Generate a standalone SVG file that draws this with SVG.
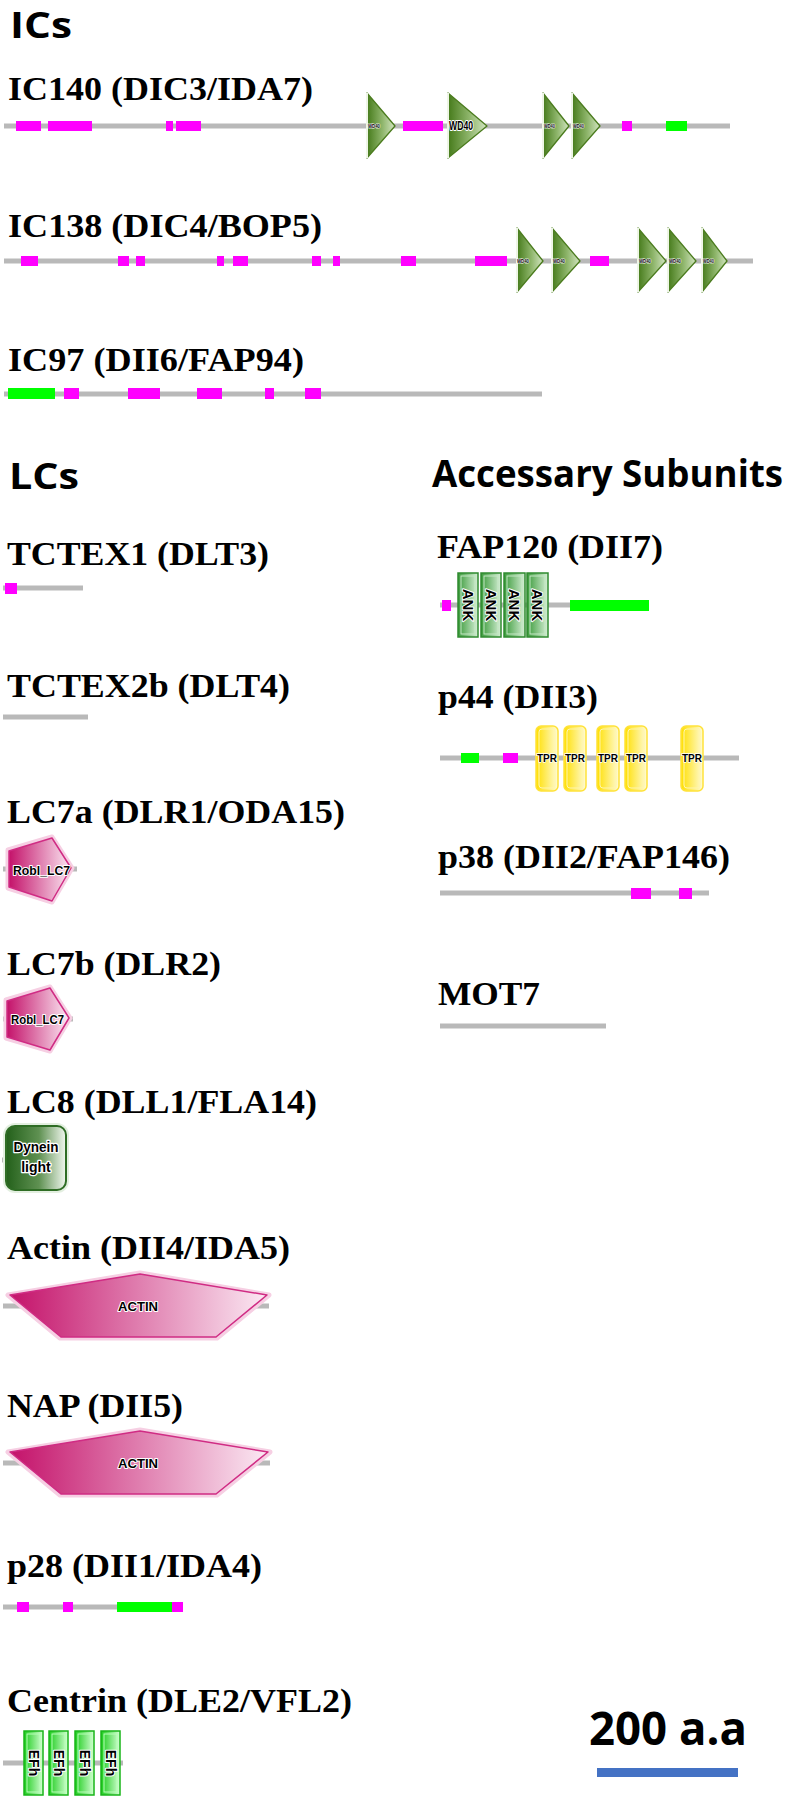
<svg xmlns="http://www.w3.org/2000/svg" width="792" height="1800" viewBox="0 0 792 1800">
<defs>
<linearGradient id="gWD" x1="0" y1="0" x2="1" y2="0"><stop offset="0" stop-color="#457a1a"/><stop offset="0.55" stop-color="#8fb66c"/><stop offset="1" stop-color="#d3e5c2"/></linearGradient>
<linearGradient id="gPk" x1="0" y1="0" x2="1" y2="0"><stop offset="0" stop-color="#c4126a"/><stop offset="1" stop-color="#fbe9f3"/></linearGradient>
<linearGradient id="gDL" x1="0" y1="0" x2="1" y2="0"><stop offset="0" stop-color="#23601a"/><stop offset="0.55" stop-color="#5f9152"/><stop offset="1" stop-color="#f2f8f0"/></linearGradient>
<linearGradient id="gAK" x1="0" y1="0" x2="1" y2="0"><stop offset="0" stop-color="#3a9a3a"/><stop offset="1" stop-color="#d6efd6"/></linearGradient>
<linearGradient id="gEF" x1="0" y1="0" x2="1" y2="0"><stop offset="0" stop-color="#1ccc1c"/><stop offset="1" stop-color="#d4ffd4"/></linearGradient>
<linearGradient id="gTP" x1="0" y1="0" x2="1" y2="0"><stop offset="0" stop-color="#ffdf00"/><stop offset="1" stop-color="#fffbd6"/></linearGradient>
</defs>
<style>
.lbl{font-family:"Liberation Serif","Times New Roman",serif;font-weight:700;font-size:33px;fill:#000}
.hd{font-family:"Open Sans","Noto Sans",sans-serif;font-weight:700;fill:#000}
.bb{stroke:#b9b9b9;stroke-width:5;fill:none}
.mg{fill:#ff00ff}
.gr{fill:#00ff00}
.wd{fill:url(#gWD);stroke:#4b7c1e;stroke-width:1.3;stroke-linejoin:round}
.wdl{stroke:#eef5e6;stroke-width:2}
.dt{font-family:"Liberation Sans",Arial,sans-serif;font-weight:700;fill:#000;stroke:#fff;paint-order:stroke;stroke-linejoin:round}
.pk{fill:url(#gPk);stroke:#d02c84;stroke-width:1.5;stroke-linejoin:round}
.pko{fill:none;stroke:#f6cfe3;stroke-width:5;stroke-linejoin:round}
.ak{fill:url(#gAK);stroke:#2f8a2f;stroke-width:1.5}
.aki{fill:none;stroke:#c6e8c6;stroke-width:1}
.ef{fill:url(#gEF);stroke:#19b519;stroke-width:1.5}
.efi{fill:none;stroke:#b8ffb8;stroke-width:1}
.tp{fill:url(#gTP);stroke:#ffe23a;stroke-width:1.5}
.tpi{fill:none;stroke:#fff5b0;stroke-width:1}
</style>

<g id="headings">
<text class="hd" x="10" y="38" font-size="36" textLength="62" lengthAdjust="spacingAndGlyphs">ICs</text>
<text class="hd" x="9" y="489" font-size="36" textLength="70" lengthAdjust="spacingAndGlyphs">LCs</text>
<text class="hd" x="432" y="487" font-size="37" textLength="351" lengthAdjust="spacingAndGlyphs">Accessary Subunits</text>
</g>

<g id="IC140">
<text class="lbl" x="8" y="100" textLength="305" lengthAdjust="spacingAndGlyphs">IC140 (DIC3/IDA7)</text>
<line class="bb" x1="4" y1="126" x2="730" y2="126"/>
<rect class="mg" x="16" y="121" width="25" height="10"/>
<rect class="mg" x="48" y="121" width="44" height="10"/>
<rect class="mg" x="166" y="121" width="7" height="10"/>
<rect class="mg" x="176" y="121" width="25" height="10"/>
<rect class="mg" x="403" y="121" width="40" height="10"/>
<rect class="mg" x="622" y="121" width="10" height="10"/>
<rect class="gr" x="666" y="121" width="21" height="10"/>
<path class="wd" d="M367 93 L395 126 L367 158 Z"/><line class="wdl" x1="367" y1="93" x2="367" y2="158"/>
<text class="dt" x="368" y="128" font-size="5" stroke-width="1" textLength="12" lengthAdjust="spacingAndGlyphs">WD40</text>
<path class="wd" d="M448 93 L487 126 L448 158 Z"/><line class="wdl" x1="448" y1="93" x2="448" y2="158"/>
<text class="dt" x="449" y="130" font-size="12" stroke-width="2" textLength="24" lengthAdjust="spacingAndGlyphs">WD40</text>
<path class="wd" d="M543 93 L569 126 L543 158 Z"/><line class="wdl" x1="543" y1="93" x2="543" y2="158"/>
<text class="dt" x="544" y="128" font-size="5" stroke-width="1" textLength="11" lengthAdjust="spacingAndGlyphs">WD40</text>
<path class="wd" d="M572 93 L600 126 L572 158 Z"/><line class="wdl" x1="572" y1="93" x2="572" y2="158"/>
<text class="dt" x="573" y="128" font-size="5" stroke-width="1" textLength="11" lengthAdjust="spacingAndGlyphs">WD40</text>
</g>

<g id="IC138">
<text class="lbl" x="8" y="237" textLength="314" lengthAdjust="spacingAndGlyphs">IC138 (DIC4/BOP5)</text>
<line class="bb" x1="4" y1="261" x2="753" y2="261"/>
<rect class="mg" x="21" y="256" width="17" height="10"/>
<rect class="mg" x="118" y="256" width="11" height="10"/>
<rect class="mg" x="136" y="256" width="9" height="10"/>
<rect class="mg" x="217" y="256" width="7" height="10"/>
<rect class="mg" x="233" y="256" width="15" height="10"/>
<rect class="mg" x="312" y="256" width="9" height="10"/>
<rect class="mg" x="333" y="256" width="7" height="10"/>
<rect class="mg" x="401" y="256" width="15" height="10"/>
<rect class="mg" x="475" y="256" width="32" height="10"/>
<rect class="mg" x="590" y="256" width="19" height="10"/>
<path class="wd" d="M517 228 L543 261 L517 292 Z"/><line class="wdl" x1="517" y1="228" x2="517" y2="292"/>
<text class="dt" x="517" y="263" font-size="5" stroke-width="1" textLength="12" lengthAdjust="spacingAndGlyphs">WD40</text>
<path class="wd" d="M552 228 L580 261 L552 292 Z"/><line class="wdl" x1="552" y1="228" x2="552" y2="292"/>
<text class="dt" x="553" y="263" font-size="5" stroke-width="1" textLength="12" lengthAdjust="spacingAndGlyphs">WD40</text>
<path class="wd" d="M638 228 L666 261 L638 292 Z"/><line class="wdl" x1="638" y1="228" x2="638" y2="292"/>
<text class="dt" x="639" y="263" font-size="5" stroke-width="1" textLength="12" lengthAdjust="spacingAndGlyphs">WD40</text>
<path class="wd" d="M668 228 L696 261 L668 292 Z"/><line class="wdl" x1="668" y1="228" x2="668" y2="292"/>
<text class="dt" x="669" y="263" font-size="5" stroke-width="1" textLength="12" lengthAdjust="spacingAndGlyphs">WD40</text>
<path class="wd" d="M702 228 L727 261 L702 292 Z"/><line class="wdl" x1="702" y1="228" x2="702" y2="292"/>
<text class="dt" x="703" y="263" font-size="5" stroke-width="1" textLength="11" lengthAdjust="spacingAndGlyphs">WD40</text>
</g>

<g id="IC97">
<text class="lbl" x="8" y="371" textLength="296" lengthAdjust="spacingAndGlyphs">IC97 (DII6/FAP94)</text>
<line class="bb" x1="4" y1="394" x2="542" y2="394"/>
<rect class="gr" x="8" y="388" width="47" height="11"/>
<rect class="mg" x="64" y="388" width="15" height="11"/>
<rect class="mg" x="128" y="388" width="32" height="11"/>
<rect class="mg" x="197" y="388" width="25" height="11"/>
<rect class="mg" x="265" y="388" width="9" height="11"/>
<rect class="mg" x="305" y="388" width="16" height="11"/>
</g>

<g id="TCTEX1">
<text class="lbl" x="7" y="565" textLength="262" lengthAdjust="spacingAndGlyphs">TCTEX1 (DLT3)</text>
<line class="bb" x1="3" y1="588" x2="83" y2="588"/>
<rect class="mg" x="5" y="583" width="12" height="11"/>
</g>

<g id="TCTEX2b">
<text class="lbl" x="7" y="697" textLength="283" lengthAdjust="spacingAndGlyphs">TCTEX2b (DLT4)</text>
<line class="bb" x1="3" y1="717" x2="88" y2="717"/>
</g>

<g id="LC7a">
<text class="lbl" x="7" y="823" textLength="338" lengthAdjust="spacingAndGlyphs">LC7a (DLR1/ODA15)</text>
<line class="bb" x1="3" y1="869" x2="77" y2="869"/>
<path class="pko" d="M8 850 L52 837 L72 868 L52 902 L8 888 Z"/>
<path class="pk" d="M9 851 L52 838 L71 868 L52 901 L9 887 Z"/>
<text class="dt" x="13" y="875" font-size="13" stroke-width="2" textLength="57" lengthAdjust="spacingAndGlyphs">Robl_LC7</text>
</g>

<g id="LC7b">
<text class="lbl" x="7" y="975" textLength="214" lengthAdjust="spacingAndGlyphs">LC7b (DLR2)</text>
<line class="bb" x1="3" y1="1019" x2="73" y2="1019"/>
<path class="pko" d="M6 1000 L50 987 L70 1018 L50 1051 L6 1038 Z"/>
<path class="pk" d="M7 1001 L50 988 L69 1018 L50 1050 L7 1037 Z"/>
<text class="dt" x="11" y="1024" font-size="12" stroke-width="2" textLength="53" lengthAdjust="spacingAndGlyphs">Robl_LC7</text>
</g>

<g id="LC8">
<text class="lbl" x="7" y="1113" textLength="310" lengthAdjust="spacingAndGlyphs">LC8 (DLL1/FLA14)</text>
<line class="bb" x1="2" y1="1160" x2="7" y2="1160"/>
<rect x="5" y="1125" width="62" height="66" rx="10" fill="none" stroke="#e3efe0" stroke-width="4"/>
<rect x="6" y="1126" width="60" height="64" rx="9" fill="url(#gDL)" stroke="#2f6d25" stroke-width="2"/>
<text class="dt" x="36" y="1152" font-size="14" stroke-width="2.5" text-anchor="middle" textLength="45" lengthAdjust="spacingAndGlyphs">Dynein</text>
<text class="dt" x="36" y="1172" font-size="14" stroke-width="2.5" text-anchor="middle">light</text>
</g>

<g id="Actin">
<text class="lbl" x="7" y="1259" textLength="283" lengthAdjust="spacingAndGlyphs">Actin (DII4/IDA5)</text>
<line class="bb" x1="3" y1="1306" x2="269" y2="1306"/>
<path class="pko" d="M8 1295 L140 1273 L269 1295 L217 1338 L60 1338 Z"/>
<path class="pk" d="M10 1295 L140 1274 L267 1295 L216 1337 L61 1337 Z"/>
<text class="dt" x="138" y="1311" font-size="13" stroke-width="2" text-anchor="middle" textLength="40" lengthAdjust="spacingAndGlyphs">ACTIN</text>
</g>

<g id="NAP">
<text class="lbl" x="7" y="1417" textLength="176" lengthAdjust="spacingAndGlyphs">NAP (DII5)</text>
<line class="bb" x1="3" y1="1463" x2="270" y2="1463"/>
<path class="pko" d="M8 1452 L140 1430 L270 1452 L217 1495 L60 1495 Z"/>
<path class="pk" d="M10 1452 L140 1431 L268 1452 L216 1494 L61 1494 Z"/>
<text class="dt" x="138" y="1468" font-size="13" stroke-width="2" text-anchor="middle" textLength="40" lengthAdjust="spacingAndGlyphs">ACTIN</text>
</g>

<g id="p28">
<text class="lbl" x="7" y="1577" textLength="255" lengthAdjust="spacingAndGlyphs">p28 (DII1/IDA4)</text>
<line class="bb" x1="3" y1="1607" x2="183" y2="1607"/>
<rect class="mg" x="17" y="1602" width="12" height="10"/>
<rect class="mg" x="63" y="1602" width="10" height="10"/>
<rect class="gr" x="117" y="1602" width="55" height="10"/>
<rect class="mg" x="172" y="1602" width="11" height="10"/>
</g>

<g id="Centrin">
<text class="lbl" x="7" y="1712" textLength="345" lengthAdjust="spacingAndGlyphs">Centrin (DLE2/VFL2)</text>
<line class="bb" x1="3" y1="1763" x2="123" y2="1763"/>
<rect class="ef" x="24" y="1731" width="19" height="64"/><rect class="efi" x="27" y="1734" width="13" height="58"/>
<text class="dt" transform="translate(33.5 1763) rotate(90)" font-size="14" stroke-width="2" text-anchor="middle" dominant-baseline="central">EFh</text>
<rect class="ef" x="49" y="1731" width="19" height="64"/><rect class="efi" x="52" y="1734" width="13" height="58"/>
<text class="dt" transform="translate(58.5 1763) rotate(90)" font-size="14" stroke-width="2" text-anchor="middle" dominant-baseline="central">EFh</text>
<rect class="ef" x="75" y="1731" width="19" height="64"/><rect class="efi" x="78" y="1734" width="13" height="58"/>
<text class="dt" transform="translate(84.5 1763) rotate(90)" font-size="14" stroke-width="2" text-anchor="middle" dominant-baseline="central">EFh</text>
<rect class="ef" x="101" y="1731" width="19" height="64"/><rect class="efi" x="104" y="1734" width="13" height="58"/>
<text class="dt" transform="translate(110.5 1763) rotate(90)" font-size="14" stroke-width="2" text-anchor="middle" dominant-baseline="central">EFh</text>
</g>

<g id="FAP120">
<text class="lbl" x="437" y="558" textLength="226" lengthAdjust="spacingAndGlyphs">FAP120 (DII7)</text>
<line class="bb" x1="440" y1="605" x2="649" y2="605"/>
<rect class="mg" x="442" y="600" width="9" height="11"/>
<rect class="gr" x="570" y="600" width="79" height="11"/>
<rect class="ak" x="458" y="573" width="20" height="64"/><rect class="aki" x="461" y="576" width="14" height="58"/>
<text class="dt" transform="translate(468 605) rotate(90)" font-size="15" stroke-width="2" text-anchor="middle" dominant-baseline="central">ANK</text>
<rect class="ak" x="481" y="573" width="20" height="64"/><rect class="aki" x="484" y="576" width="14" height="58"/>
<text class="dt" transform="translate(491 605) rotate(90)" font-size="15" stroke-width="2" text-anchor="middle" dominant-baseline="central">ANK</text>
<rect class="ak" x="504" y="573" width="21" height="64"/><rect class="aki" x="507" y="576" width="15" height="58"/>
<text class="dt" transform="translate(514.5 605) rotate(90)" font-size="15" stroke-width="2" text-anchor="middle" dominant-baseline="central">ANK</text>
<rect class="ak" x="527" y="573" width="21" height="64"/><rect class="aki" x="530" y="576" width="15" height="58"/>
<text class="dt" transform="translate(537.5 605) rotate(90)" font-size="15" stroke-width="2" text-anchor="middle" dominant-baseline="central">ANK</text>
</g>

<g id="p44">
<text class="lbl" x="438" y="708" textLength="160" lengthAdjust="spacingAndGlyphs">p44 (DII3)</text>
<line class="bb" x1="440" y1="758" x2="739" y2="758"/>
<rect class="gr" x="461" y="753" width="18" height="10"/>
<rect class="mg" x="503" y="753" width="15" height="10"/>
<rect class="tp" x="536" y="726" width="22" height="65" rx="5"/><rect class="tpi" x="539" y="729" width="16" height="59" rx="3"/>
<text class="dt" x="547" y="762" font-size="10" stroke-width="1.5" text-anchor="middle">TPR</text>
<rect class="tp" x="564" y="726" width="22" height="65" rx="5"/><rect class="tpi" x="567" y="729" width="16" height="59" rx="3"/>
<text class="dt" x="575" y="762" font-size="10" stroke-width="1.5" text-anchor="middle">TPR</text>
<rect class="tp" x="597" y="726" width="22" height="65" rx="5"/><rect class="tpi" x="600" y="729" width="16" height="59" rx="3"/>
<text class="dt" x="608" y="762" font-size="10" stroke-width="1.5" text-anchor="middle">TPR</text>
<rect class="tp" x="625" y="726" width="22" height="65" rx="5"/><rect class="tpi" x="628" y="729" width="16" height="59" rx="3"/>
<text class="dt" x="636" y="762" font-size="10" stroke-width="1.5" text-anchor="middle">TPR</text>
<rect class="tp" x="681" y="726" width="22" height="65" rx="5"/><rect class="tpi" x="684" y="729" width="16" height="59" rx="3"/>
<text class="dt" x="692" y="762" font-size="10" stroke-width="1.5" text-anchor="middle">TPR</text>
</g>

<g id="p38">
<text class="lbl" x="438" y="868" textLength="292" lengthAdjust="spacingAndGlyphs">p38 (DII2/FAP146)</text>
<line class="bb" x1="440" y1="893" x2="709" y2="893"/>
<rect class="mg" x="631" y="888" width="20" height="11"/>
<rect class="mg" x="679" y="888" width="13" height="11"/>
</g>

<g id="MOT7">
<text class="lbl" x="438" y="1005" textLength="102" lengthAdjust="spacingAndGlyphs">MOT7</text>
<line class="bb" x1="440" y1="1026" x2="606" y2="1026"/>
</g>

<g id="scale">
<text class="hd" x="589" y="1745" font-size="46" textLength="158" lengthAdjust="spacingAndGlyphs">200 a.a</text>
<rect x="597" y="1768" width="141" height="9" fill="#4472c4"/>
</g>
</svg>
